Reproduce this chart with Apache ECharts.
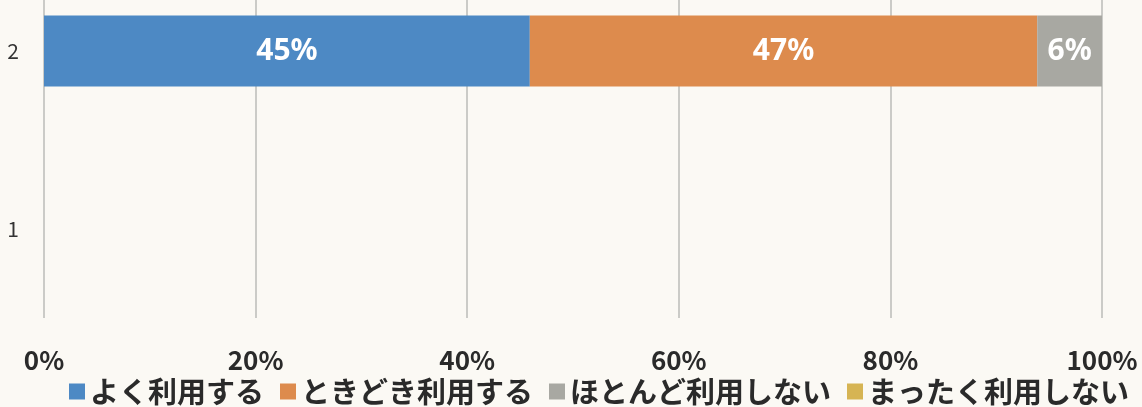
<!DOCTYPE html>
<html>
<head>
<meta charset="utf-8">
<script src="https://cdn.jsdelivr.net/npm/echarts@6/dist/echarts.min.js"></script>
<style>
  html, body { margin: 0; padding: 0; background: #fbf9f4; }
  #chart { width: 1142px; height: 407px; }
</style>
</head>
<body>
<div id="chart"></div>
<script>
// rows of the bar chart (bottom to top)
const categories = ['1', '2'];
const seriesNames = ['よく利用する', 'ときどき利用する', 'ほとんど利用しない', 'まったく利用しない'];
const oftenUse = [0, 45];
const sometimesUse = [0, 47];
const rarelyUse = [0, 6];
const neverUse = [0, 0];
const xTicks = [0, 20, 40, 60, 80, 100];

const colors = ['#4d89c4', '#dd8b4d', '#a8a8a2', '#d6b453'];
const rawSeries = [oftenUse, sometimesUse, rarelyUse, neverUse];

// 100% stacked: each row is scaled to its own total
const totals = categories.map((_, i) => rawSeries.reduce((s, arr) => s + arr[i], 0));

const chart = echarts.init(document.getElementById('chart'));

chart.setOption({
  backgroundColor: '#fbf9f4',
  animation: false,
  textStyle: { fontFamily: '"Noto Sans CJK JP", "Noto Sans", sans-serif' },
  grid: { left: 44, right: 40, top: -38, bottom: 89, outerBoundsMode: 'none' },
  legend: {
    top: 372,
    left: 64,
    itemWidth: 16,
    itemHeight: 16,
    itemGap: 16,
    icon: 'rect',
    data: seriesNames,
    textStyle: { color: '#2a2a2a', fontSize: 29, fontWeight: 'bold' }
  },
  xAxis: {
    type: 'value',
    min: xTicks[0],
    max: xTicks[xTicks.length - 1],
    interval: 20,
    axisLine: { show: false },
    axisTick: { show: false },
    axisLabel: {
      formatter: '{value}%',
      color: '#2a2a2a',
      fontSize: 26,
      fontWeight: 'bold',
      margin: 29
    },
    splitLine: { lineStyle: { color: '#cbcbc7', width: 2 } }
  },
  yAxis: {
    type: 'category',
    data: categories,
    axisLine: { show: false },
    axisTick: { show: false },
    axisLabel: { color: '#333', fontSize: 21, margin: 25 }
  },
  series: seriesNames.map((name, k) => ({
    name,
    type: 'bar',
    stack: 'total',
    barWidth: '40%',
    itemStyle: { color: colors[k] },
    label: {
      show: true,
      position: 'inside',
      color: '#fff',
      fontSize: 30,
      fontWeight: 'bold',
      fontFamily: '"Noto Sans", sans-serif',
      formatter: (p) => (rawSeries[k][p.dataIndex] > 0 ? rawSeries[k][p.dataIndex] + '%' : '')
    },
    data: rawSeries[k].map((v, i) => (totals[i] ? (v / totals[i]) * 100 : 0))
  }))
});
</script>
</body>
</html>
